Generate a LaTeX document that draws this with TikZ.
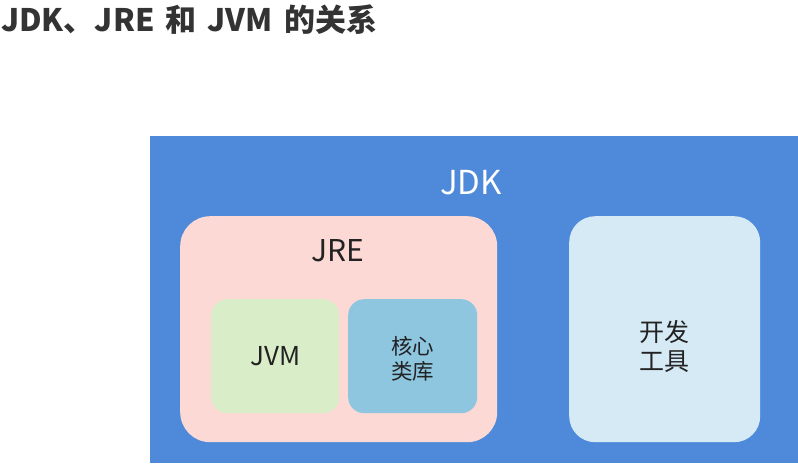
\documentclass[tikz,border=0pt]{standalone}
\usepackage{fontspec}
\setmainfont{Noto Sans CJK SC}
\usetikzlibrary{positioning}
\definecolor{jdkblue}{HTML}{4E8AD9}
\definecolor{jrepink}{HTML}{FDD9D5}
\definecolor{jvmgreen}{HTML}{D9EDC8}
\definecolor{libblue}{HTML}{8EC6E0}
\definecolor{toolblue}{HTML}{D6EAF5}
\definecolor{titlegray}{HTML}{333333}
\definecolor{labelgray}{HTML}{222222}

\begin{document}
\begin{tikzpicture}[
    x=1pt, y=-1pt,
    box/.style={rectangle, inner sep=0pt, anchor=north west},
    label/.style={inner sep=0pt, align=center, text=labelgray},
]
\useasboundingbox (0,0) rectangle (798,467);

% Title
\node[anchor=west, inner sep=0pt, text=titlegray, font=\fontsize{31}{36}\selectfont\bfseries] (title) at (1,20) {JDK、JRE\hspace{4pt} 和\hspace{4pt} JVM\hspace{4pt} 的关系};

% Boxes
\node[box, fill=jdkblue, minimum width=648pt, minimum height=327pt] (jdk) at (150,136) {};
\node[box, fill=jrepink, rounded corners=30pt, minimum width=317pt, minimum height=226pt] (jre) at (180,216) {};
\node[box, fill=jvmgreen, rounded corners=16pt, minimum width=128pt, minimum height=114pt] (jvm) at (211,299) {};
\node[box, fill=libblue, rounded corners=16pt, minimum width=129pt, minimum height=114pt] (lib) at (348,299) {};
\node[box, fill=toolblue, rounded corners=26pt, minimum width=191pt, minimum height=226pt] (tools) at (569,216) {};

% Labels
\node[label, text=white, font=\fontsize{33}{38}\selectfont] (jdklabel) at (471,183) {JDK};
\node[label, font=\fontsize{30}{34}\selectfont] (jrelabel) at (338,251) {JRE};
\node[label, font=\fontsize{26}{30}\selectfont] at (jvm.center) {JVM};
\node[label, font=\fontsize{21.5}{25}\selectfont] at ([yshift=-3pt]lib.center) {核心\\类库};
\node[label, font=\fontsize{25}{29}\selectfont] at ([yshift=-17pt]tools.center) {开发\\工具};

\end{tikzpicture}
\end{document}
